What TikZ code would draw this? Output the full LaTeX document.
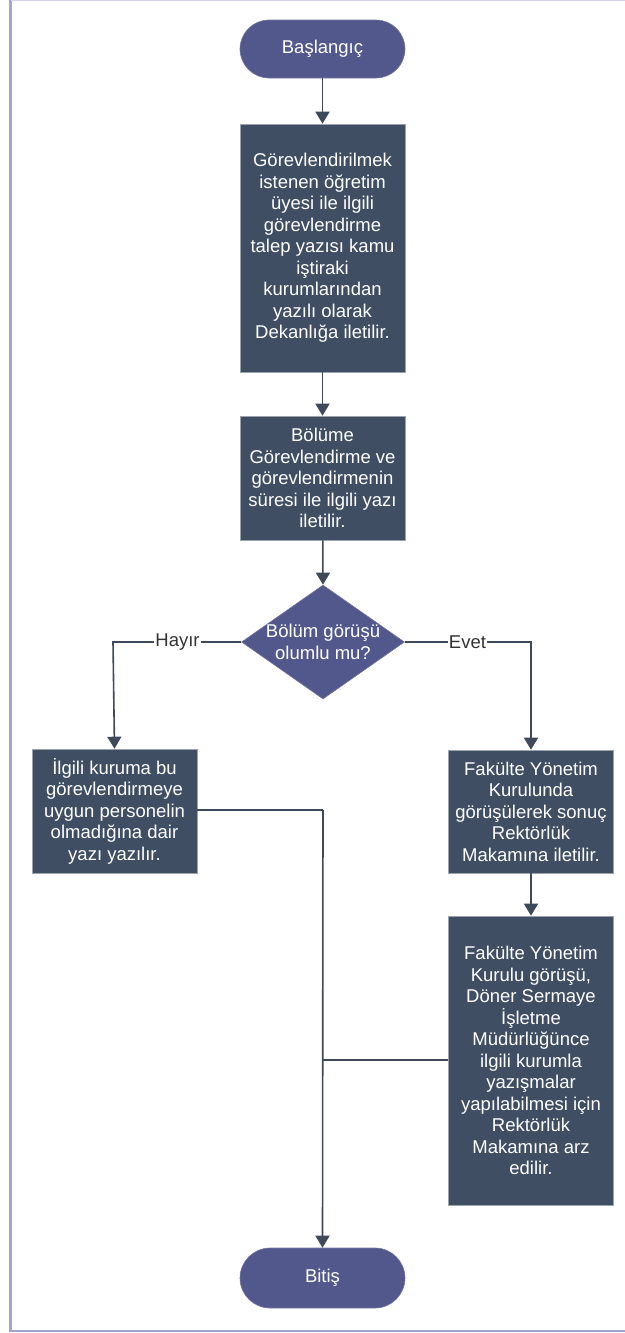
\documentclass[tikz,border=0pt]{standalone}
\usepackage{fontspec}
\setmainfont{Liberation Sans}
\usetikzlibrary{shapes.geometric,arrows.meta}
\definecolor{pillc}{HTML}{53588C}
\definecolor{boxc}{HTML}{3F4E63}
\definecolor{linec}{HTML}{3E4A5C}
\definecolor{framec}{HTML}{A3A5CF}
\definecolor{edgec}{HTML}{9AA3AE}
\tikzset{
  txt/.style={text=white, align=center, font=\fontsize{18.5}{21.5}\selectfont, inner sep=0pt},
  pill/.style={txt, fill=pillc, draw=pillc!80!white, line width=0.6pt, rounded corners=29pt, minimum width=165pt, minimum height=58pt},
  procbox/.style={txt, fill=boxc, draw=edgec, line width=0.6pt, minimum width=165pt},
  decision/.style={diamond, fill=pillc, draw=pillc!80!white, line width=0.6pt, inner sep=0pt, minimum width=163pt, minimum height=114pt},
  conn/.style={draw=linec, line width=1.6pt},
  arr/.style={conn, -{Triangle[width=14pt,length=12pt]}},
  lbl/.style={fill=white, text=black!80, font=\fontsize{18.5}{21.5}\selectfont, inner sep=1pt}
}
\begin{document}
\begin{tikzpicture}[x=1pt,y=-1pt]
\useasboundingbox (0,0) rectangle (624,1333);
\draw[framec, line width=2.2pt] (10.5,0) -- (10.5,1331) -- (640,1331);
\draw[framec!50!white, line width=1pt] (10.5,0) -- (640,0);

\node[pill] (start) at (322.5,49) {Başlangıç};
\node[procbox, minimum height=248pt] (b1) at (322.5,248) {Görevlendirilmek\\istenen öğretim\\üyesi ile ilgili\\görevlendirme\\talep yazısı kamu\\iştiraki\\kurumlarından\\yazılı olarak\\Dekanlığa iletilir.};
\node[procbox, minimum height=124pt] (b2) at (322.5,478) {Bölüme\\Görevlendirme ve\\görevlendirmenin\\süresi ile ilgili yazı\\iletilir.};
\node[decision] (d) at (323,642) {};
\node[txt] (dtext) at (323,642) {Bölüm görüşü\\olumlu mu?};
\node[procbox, minimum height=124pt] (b3) at (114.5,811) {İlgili kuruma bu\\görevlendirmeye\\uygun personelin\\olmadığına dair\\yazı yazılır.};
\node[procbox, minimum height=123pt] (b4) at (531,811.5) {Fakülte Yönetim\\Kurulunda\\görüşülerek sonuç\\Rektörlük\\Makamına iletilir.};
\node[procbox, minimum height=289pt] (b5) at (531,1060.5) {Fakülte Yönetim\\Kurulu görüşü,\\Döner Sermaye\\İşletme\\Müdürlüğünce\\ilgili kurumla\\yazışmalar\\yapılabilmesi için\\Rektörlük\\Makamına arz\\edilir.};
\node[pill, minimum height=60pt, rounded corners=30pt] (end) at (322.5,1278) {Bitiş};

\coordinate (hl) at (113,642);
\coordinate (hr) at (531,642);
\coordinate (m1) at (323,810);
\coordinate (m2) at (323,1060);

\draw[arr] (start) -- (b1);
\draw[arr] (b1) -- (b2);
\draw[arr] (b2) -- (d.north);
\draw[arr] (d.west) -- (hl) -- (b3.north);
\draw[arr] (d.east) -- (hr) -- (b4.north);
\node[lbl] (hayir) at (177.5,642) {Hayır};
\node[lbl] (evet) at (467.5,642) {Evet};
\draw[arr] (b4) -- (b5);
\draw[conn] (b3.east |- m1) -- (m1);
\draw[arr] (m1) -- (end.north);
\draw[conn] (b5.west |- m2) -- (m2);
\end{tikzpicture}
\end{document}
